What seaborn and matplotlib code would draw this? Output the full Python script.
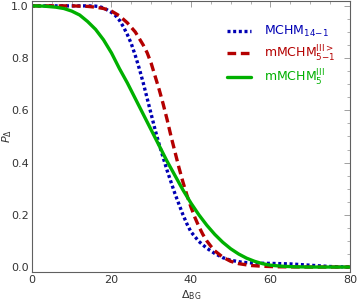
import numpy as np
import pandas as pd
import seaborn as sns
import matplotlib.pyplot as plt
from matplotlib.ticker import MultipleLocator

sns.set_style('white')

x_blue = [0, 5, 10, 14, 16, 17, 18, 19, 20, 21, 22, 23, 24, 25, 26, 27, 28, 29, 30, 31, 32, 33, 34, 35, 36, 37, 38, 39, 40, 42, 44, 46, 48, 50, 53, 56, 60, 65, 70, 75, 80]
p_blue = [1.0, 1.0, 1.0, 1.0, 0.999, 0.997, 0.992, 0.984, 0.975, 0.963, 0.945, 0.92, 0.89, 0.855, 0.81, 0.76, 0.705, 0.645, 0.585, 0.525, 0.47, 0.42, 0.37, 0.325, 0.28, 0.24, 0.2, 0.165, 0.135, 0.098, 0.072, 0.052, 0.036, 0.026, 0.018, 0.015, 0.014, 0.012, 0.007, 0.002, 0.0]

x_red = [0, 5, 10, 14, 16, 18, 20, 22, 24, 26, 28, 29, 30, 31, 32, 33, 34, 35, 36, 37, 38, 39, 40, 41, 42, 43, 44, 45, 46, 48, 50, 52, 55, 58, 62, 70, 80]
p_red = [1.0, 1.0, 1.0, 0.998, 0.995, 0.99, 0.98, 0.962, 0.935, 0.9, 0.85, 0.82, 0.78, 0.73, 0.68, 0.625, 0.565, 0.5, 0.44, 0.38, 0.325, 0.275, 0.23, 0.19, 0.155, 0.125, 0.1, 0.08, 0.062, 0.038, 0.022, 0.013, 0.006, 0.003, 0.001, 0.0, 0.0]

x_green = [0, 3, 6, 8, 10, 12, 14, 16, 18, 20, 22, 24, 26, 28, 30, 32, 34, 36, 38, 40, 42, 44, 46, 48, 50, 52, 54, 56, 58, 60, 63, 66, 70, 80]
p_green = [1.0, 0.999, 0.995, 0.99, 0.98, 0.965, 0.94, 0.91, 0.87, 0.82, 0.76, 0.705, 0.645, 0.585, 0.525, 0.465, 0.405, 0.35, 0.295, 0.245, 0.2, 0.16, 0.125, 0.095, 0.07, 0.05, 0.034, 0.022, 0.013, 0.007, 0.003, 0.001, 0.0, 0.0]

labels = [r'MCHM$_{\rm 14{-}1}$', r'mMCHM$_{\rm 5{-}1}^{\rm III>}$', r'mMCHM$_{5}^{\rm III}$']
colors = ['#0000b4', '#b40000', '#00b000']

fig, ax = plt.subplots(figsize=(3.57, 3.03), dpi=100)

sns.lineplot(x=x_blue, y=p_blue, ax=ax, color=colors[0], lw=2.4, label=labels[0])
ax.lines[-1].set_dashes([0.9, 0.8])
sns.lineplot(x=x_red, y=p_red, ax=ax, color=colors[1], lw=2.4, label=labels[1])
ax.lines[-1].set_dashes([2.6, 1.4])
sns.lineplot(x=x_green, y=p_green, ax=ax, color=colors[2], lw=2.4, label=labels[2])

ax.set_xlim(0, 80)
ax.set_ylim(-0.019, 1.019)
ax.xaxis.set_major_locator(MultipleLocator(20))
ax.xaxis.set_minor_locator(MultipleLocator(5))
ax.yaxis.set_major_locator(MultipleLocator(0.2))
ax.yaxis.set_minor_locator(MultipleLocator(0.05))
ax.yaxis.set_major_formatter(plt.FuncFormatter(lambda v, p: f'{v:.1f}'))
ax.tick_params(which='both', direction='in', top=True, right=True, colors='#909090',
               labelcolor='#333333', labelsize=8, pad=2.5)
ax.tick_params(which='major', length=4, width=0.6)
ax.tick_params(which='minor', length=2, width=0.5)
for s in ax.spines.values():
    s.set_color('#606060')
    s.set_linewidth(0.8)

ax.set_xlabel(r'$\Delta_{\rm BG}$', fontsize=8, color='#333333', labelpad=2)
ax.set_ylabel(r'$P_\Delta$', fontsize=8, color='#333333')
ax.yaxis.set_label_coords(-0.056, 0.5)

leg = ax.legend(loc='upper left', frameon=False, fontsize=9, handlelength=1.9,
                labelspacing=0.35, handletextpad=1.0, borderaxespad=0, borderpad=0,
                bbox_to_anchor=(0.615, 0.915))
for t, c in zip(leg.get_texts(), colors):
    t.set_color(c)

plt.subplots_adjust(left=0.0896, right=0.98, top=0.997, bottom=0.1023)
plt.savefig('out.png', dpi=100)
